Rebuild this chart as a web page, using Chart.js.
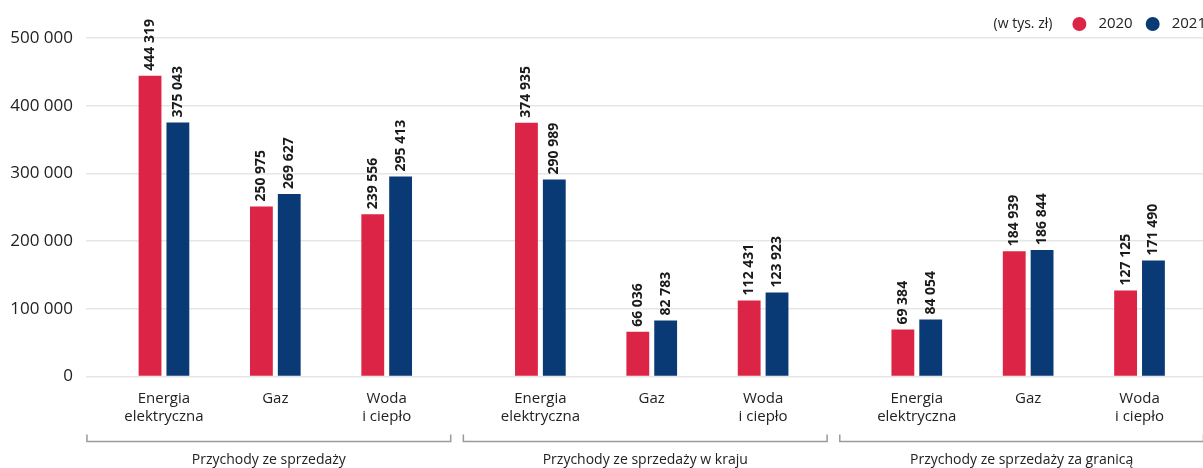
<!DOCTYPE html>
<html>
<head>
<meta charset="utf-8">
<script src="https://cdn.jsdelivr.net/npm/chart.js@4"></script>
<style>
  html, body { margin: 0; padding: 0; background: #fff; }
  #wrap { width: 1203px; height: 468px; position: relative; }
</style>
</head>
<body>
<div id="wrap"><canvas id="chart"></canvas></div>
<script>
// dane z wykresu (w tys. zł)
const groups = ['Przychody ze sprzedaży', 'Przychody ze sprzedaży w kraju', 'Przychody ze sprzedaży za granicą'];
const categories = [['Energia', 'elektryczna'], ['Gaz'], ['Woda', 'i ciepło']];
const years = ['2020', '2021'];
const values2020 = [444319, 250975, 239556, 374935, 66036, 112431, 69384, 184939, 127125];
const values2021 = [375043, 269627, 295413, 290989, 82783, 123923, 84054, 186844, 171490];
const yTicks = [0, 100000, 200000, 300000, 400000, 500000];
const unitLabel = '(w tys. zł)';

const colors = ['#dc2446', '#0a3a75'];
const textColor = '#222222';
const fontFamily = '"Open Sans", sans-serif';
const groupGap = 0.38; // dodatkowy odstęp między grupami

const fmt = v => String(v).replace(/\B(?=(\d{3})+(?!\d))/g, ' ');

// pozycje kategorii na osi x
const xPos = [];
const xLabels = [];
groups.forEach((g, gi) => {
  categories.forEach((c, ci) => {
    xPos.push(gi * (categories.length + groupGap) + ci);
    xLabels.push(c);
  });
});

const barLabels = {
  id: 'barLabels',
  afterDatasetsDraw(chart) {
    const ctx = chart.ctx;
    ctx.save();
    ctx.font = 'bold 14px ' + fontFamily;
    ctx.fillStyle = '#1a1a1a';
    ctx.textAlign = 'left';
    ctx.textBaseline = 'middle';
    chart.data.datasets.forEach((ds, di) => {
      chart.getDatasetMeta(di).data.forEach((bar, i) => {
        ctx.save();
        ctx.translate(bar.x, bar.y - 5);
        ctx.rotate(-Math.PI / 2);
        ctx.fillText(fmt(ds.data[i].y), 0, 0);
        ctx.restore();
      });
    });
    ctx.restore();
  }
};

const groupBrackets = {
  id: 'groupBrackets',
  afterDraw(chart) {
    const ctx = chart.ctx;
    const x = chart.scales.x;
    const yLine = chart.chartArea.bottom + 65;
    ctx.save();
    ctx.strokeStyle = '#9a9a9a';
    ctx.lineWidth = 1.5;
    ctx.font = '14px ' + fontFamily;
    ctx.fillStyle = textColor;
    ctx.textAlign = 'center';
    ctx.textBaseline = 'middle';
    groups.forEach((g, gi) => {
      const first = xPos[gi * categories.length];
      const last = xPos[gi * categories.length + categories.length - 1];
      const l = x.getPixelForValue(first) - 77;
      const r = x.getPixelForValue(last) + 64;
      ctx.beginPath();
      ctx.moveTo(l, yLine - 7);
      ctx.lineTo(l, yLine);
      ctx.lineTo(r, yLine);
      ctx.lineTo(r, yLine - 7);
      ctx.stroke();
      ctx.fillText(g, (l + r) / 2, yLine + 19);
    });
    ctx.restore();
  }
};

const topLegend = {
  id: 'topLegend',
  afterDraw(chart) {
    const ctx = chart.ctx;
    const y = 24;
    let right = chart.width + 3;
    ctx.save();
    ctx.textBaseline = 'middle';
    ctx.textAlign = 'left';
    ctx.font = '15px ' + fontFamily;
    const ds = chart.data.datasets;
    for (let i = ds.length - 1; i >= 0; i--) {
      const w = ctx.measureText(ds[i].label).width;
      const tx = right - w;
      ctx.fillStyle = textColor;
      ctx.fillText(ds[i].label, tx, y);
      const cx = tx - 19;
      ctx.fillStyle = ds[i].backgroundColor;
      ctx.beginPath();
      ctx.arc(cx, y, 7, 0, Math.PI * 2);
      ctx.fill();
      right = cx - 7 - 13;
    }
    ctx.font = '14px ' + fontFamily;
    ctx.fillStyle = textColor;
    ctx.textAlign = 'right';
    ctx.fillText(unitLabel, right - 7, y);
    ctx.restore();
  }
};

new Chart(document.getElementById('chart'), {
  type: 'bar',
  data: {
    datasets: [
      {
        label: years[0],
        data: values2020.map((v, i) => ({ x: xPos[i], y: v })),
        backgroundColor: colors[0]
      },
      {
        label: years[1],
        data: values2021.map((v, i) => ({ x: xPos[i], y: v })),
        backgroundColor: colors[1]
      }
    ]
  },
  options: {
    responsive: true,
    maintainAspectRatio: false,
    animation: false,
    categoryPercentage: 0.5,
    barPercentage: 0.82,
    layout: { padding: { top: 38, right: 0, bottom: 37, left: 0 } },
    plugins: {
      legend: { display: false },
      tooltip: { enabled: false }
    },
    scales: {
      x: {
        type: 'linear',
        offset: false,
        min: -0.7,
        max: 9.33,
        grid: { display: false },
        border: { display: false },
        afterBuildTicks: scale => { scale.ticks = xPos.map(v => ({ value: v })); },
        ticks: {
          autoSkip: false,
          maxRotation: 0,
          padding: 6,
          color: textColor,
          font: { family: fontFamily, size: 15, lineHeight: 1.15 },
          callback: (v, i) => xLabels[i]
        }
      },
      y: {
        min: 0,
        max: 500000,
        afterBuildTicks: scale => { scale.ticks = yTicks.map(v => ({ value: v })); },
        afterFit: scale => { scale.width = 86; },
        grid: { color: '#e6e6e6', lineWidth: 1.5, drawTicks: false },
        border: { display: false },
        ticks: {
          padding: 13,
          color: textColor,
          font: { family: fontFamily, size: 17 },
          callback: v => fmt(v)
        }
      }
    }
  },
  plugins: [barLabels, groupBrackets, topLegend]
});
</script>
</body>
</html>
